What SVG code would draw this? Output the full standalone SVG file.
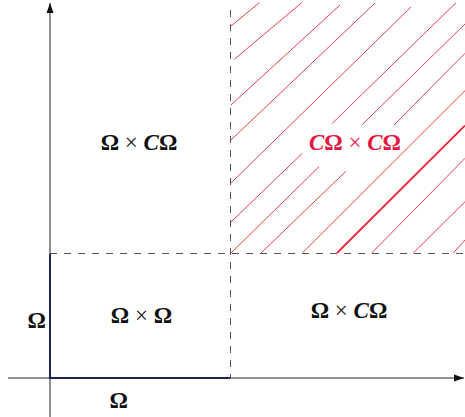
<svg xmlns="http://www.w3.org/2000/svg" width="465" height="417" viewBox="0 0 465 417">
  <style>
    .hatch { stroke: #e8293b; stroke-width: 0.9; fill: none; }
    .hatch-thick { stroke: #e8293b; stroke-width: 1.8; fill: none; }
    .dash { stroke: #555; stroke-width: 1; stroke-dasharray: 7 7; fill: none; }
    .axis { stroke: #222; stroke-width: 1; fill: none; }
    .omega { stroke: #1c2650; stroke-width: 2; fill: none; }
    .lbl { font-family: "Liberation Serif", "DejaVu Serif", serif; font-size: 23px; text-anchor: middle; fill: #111; }
    .red { fill: #e5173f; }
    .b { font-weight: bold; }
    .cal { font-style: italic; font-weight: bold; }
  </style>
  <defs>
    <marker id="arr" viewBox="0 0 10 10" refX="10" refY="5" markerWidth="10" markerHeight="10" markerUnits="userSpaceOnUse" orient="auto">
      <path d="M0,1.5 L10,5 L0,8.5 Z" fill="#111"/>
    </marker>
  </defs>
  <rect width="465" height="417" fill="#fff"/>

  <g id="hatching">
    <line class="hatch" x1="231" y1="26" x2="259.3" y2="2.7"/>
    <line class="hatch" x1="234.3" y1="59.3" x2="301.7" y2="2.7"/>
    <line class="hatch" x1="231" y1="105" x2="340" y2="5"/>
    <line class="hatch" x1="231" y1="140" x2="375" y2="3"/>
    <line class="hatch" x1="231" y1="183" x2="411" y2="7"/>
    <line class="hatch" x1="231" y1="222" x2="302.3" y2="153.3"/>
    <line class="hatch" x1="332.3" y1="123.3" x2="456" y2="2.7"/>
    <line class="hatch" x1="231" y1="253" x2="319" y2="166.7"/>
    <line class="hatch" x1="362.3" y1="124.5" x2="465" y2="24"/>
    <line class="hatch" x1="261" y1="253" x2="346" y2="171.2"/>
    <line class="hatch" x1="394" y1="125" x2="465" y2="53.3"/>
    <line class="hatch" x1="302.3" y1="253" x2="465" y2="90.7"/>
    <line class="hatch-thick" x1="337" y1="253" x2="465" y2="125.5"/>
    <line class="hatch" x1="371.7" y1="253" x2="465" y2="158.3"/>
    <line class="hatch" x1="413.3" y1="253" x2="465" y2="201.7"/>
    <line class="hatch" x1="453.3" y1="253" x2="465" y2="240"/>
  </g>

  <g id="dashed">
    <line class="dash" x1="230.5" y1="10" x2="230.5" y2="378"/>
    <line class="dash" x1="50" y1="253.5" x2="465" y2="253.5"/>
  </g>

  <g id="axes">
    <line class="axis" x1="50" y1="417" x2="50" y2="3" marker-end="url(#arr)"/>
    <line class="axis" x1="8" y1="378" x2="464" y2="378" marker-end="url(#arr)"/>
  </g>

  <g id="omega-set">
    <path class="omega" d="M50,254 L50,378 L230,378"/>
  </g>

  <g id="labels">
    <text class="lbl" x="139" y="150"><tspan class="b">Ω</tspan> × <tspan class="cal">C</tspan><tspan class="b">Ω</tspan></text>
    <text class="lbl red" x="355" y="150"><tspan class="cal">C</tspan><tspan class="b">Ω</tspan> × <tspan class="cal">C</tspan><tspan class="b">Ω</tspan></text>
    <text class="lbl" x="141.5" y="323"><tspan class="b">Ω</tspan> × <tspan class="b">Ω</tspan></text>
    <text class="lbl" x="349" y="318"><tspan class="b">Ω</tspan> × <tspan class="cal">C</tspan><tspan class="b">Ω</tspan></text>
    <text class="lbl b" x="36.7" y="328">Ω</text>
    <text class="lbl b" x="118.7" y="407.5">Ω</text>
  </g>
</svg>
